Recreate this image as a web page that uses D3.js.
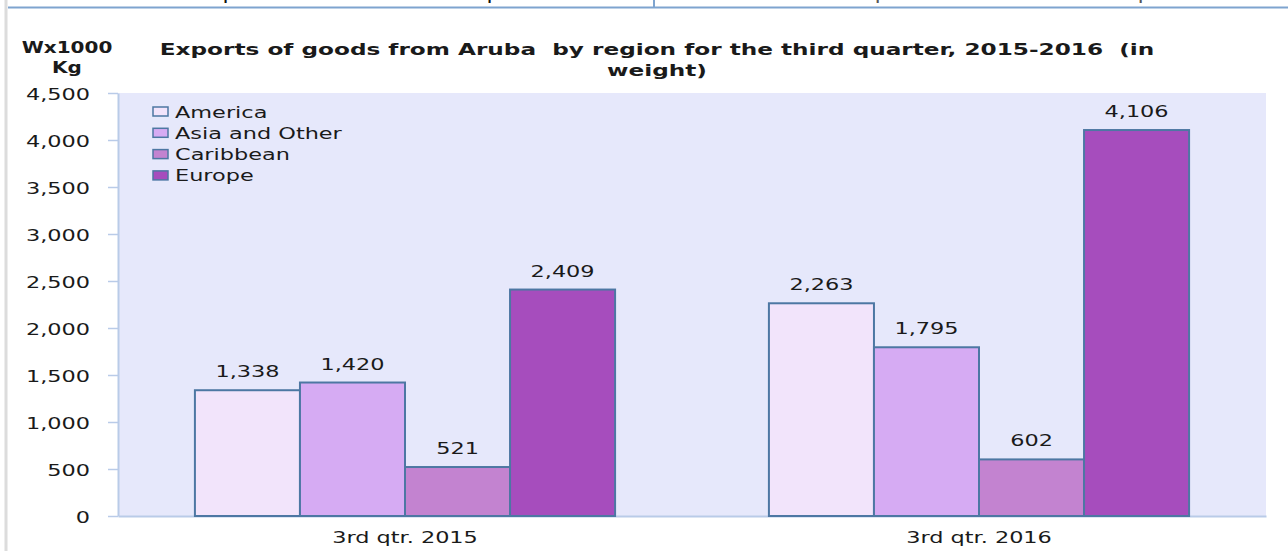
<!DOCTYPE html>
<html>
<head>
<meta charset="utf-8">
<script src="https://cdn.jsdelivr.net/npm/d3@7/dist/d3.min.js"></script>
<style>
  html, body { margin: 0; padding: 0; background: #ffffff; }
  svg { display: block; }
  text { font-family: "DejaVu Sans", Verdana, sans-serif; white-space: pre; }
</style>
</head>
<body>
<svg id="chart" width="1288" height="551"></svg>
<script>
// ---- data ----
const categories = ["3rd qtr. 2015", "3rd qtr. 2016"];
const seriesNames = ["America", "Asia and Other", "Caribbean", "Europe"];
const america = [1338, 2263];
const asiaOther = [1420, 1795];
const caribbean = [521, 602];
const europe = [2409, 4106];
const yTicks = [0, 500, 1000, 1500, 2000, 2500, 3000, 3500, 4000, 4500];
const titleLines = ["Exports of goods from Aruba  by region for the third quarter, 2015-2016  (in", "weight)"];
const yLabelLines = ["Wx1000", "Kg"];
const colors = ["#f2e4fb", "#d6abf3", "#c383d0", "#a64dbd"];

const seriesValues = [america, asiaOther, caribbean, europe];

// ---- layout ----
const SX = 1.4;
const svg = d3.select("#chart");
const plot = { left: 118, right: 1266, top: 93, bottom: 516 };

function stext(parent, x, y, txt, opts = {}) {
  const t = parent.append("text")
    .attr("transform", `translate(${x},${y}) scale(${opts.sx || SX},1)`)
    .attr("text-anchor", opts.anchor || "start")
    .attr("font-size", opts.size || 16)
    .attr("font-weight", opts.bold ? "bold" : "normal")
    .attr("fill", opts.fill || "#1a1a1a")
    .text(txt);
  return t;
}

// top table fragment (row above the chart, cut off by the picture's top edge)
const topRow = svg.append("g");
stext(topRow, 195, 0, "Export", { fill: "#111" });
stext(topRow, 458, 0, "Import", { fill: "#111" });
stext(topRow, 822, 0, "3rd quarter 2015", { fill: "#555" });
stext(topRow, 1085, 0, "3rd quarter 2016", { fill: "#555" });
svg.append("line").attr("x1", 8).attr("x2", 1288).attr("y1", 7.5).attr("y2", 7.5)
  .attr("stroke", "#7ea4cf").attr("stroke-width", 2);
svg.append("line").attr("x1", 654).attr("x2", 654).attr("y1", 0).attr("y2", 7)
  .attr("stroke", "#7ea4cf").attr("stroke-width", 2);
// left grey border
svg.append("line").attr("x1", 6).attr("x2", 6).attr("y1", 0).attr("y2", 551)
  .attr("stroke", "#dcdcdc").attr("stroke-width", 3);

// scales
const y = d3.scaleLinear().domain([0, 4500]).range([plot.bottom, plot.top]);
const x0 = d3.scaleBand().domain(categories).range([plot.left, plot.right]).padding(0);
const bw = x0.bandwidth();
const x1 = d3.scaleBand().domain(seriesNames).range([bw * 0.134, bw * 0.866]).padding(0);

// plot background
svg.append("rect")
  .attr("x", plot.left).attr("y", plot.top)
  .attr("width", plot.right - plot.left).attr("height", plot.bottom - plot.top)
  .attr("fill", "#e6e8fb");

// y axis
const yAxis = svg.append("g").attr("transform", `translate(${plot.left},0)`)
  .call(d3.axisLeft(y).tickValues(yTicks).tickSize(10).tickSizeOuter(0).tickFormat(d3.format(",")));
yAxis.select(".domain").attr("stroke", "#b9cbe8").attr("stroke-width", 2);
yAxis.selectAll(".tick line").attr("stroke", "#b9cbe8").attr("stroke-width", 1.5);
yAxis.selectAll(".tick text")
  .attr("x", null).attr("dy", null)
  .attr("transform", `translate(-28,6) scale(${SX},1)`)
  .attr("text-anchor", "end")
  .attr("font-size", 16)
  .attr("font-family", "DejaVu Sans, sans-serif")
  .attr("fill", "#1a1a1a");

// x axis
const xAxis = svg.append("g").attr("transform", `translate(0,${plot.bottom})`)
  .call(d3.axisBottom(x0).tickSize(0).tickSizeOuter(0));
xAxis.select(".domain").attr("stroke", "#b9cbe8").attr("stroke-width", 2);
xAxis.selectAll(".tick text")
  .attr("y", null).attr("dy", null)
  .attr("transform", `translate(0,27) scale(${SX},1)`)
  .attr("font-size", 16)
  .attr("font-family", "DejaVu Sans, sans-serif")
  .attr("fill", "#1a1a1a");

// bars
const groups = svg.append("g").selectAll("g")
  .data(categories)
  .join("g")
  .attr("transform", d => `translate(${x0(d)},0)`);

groups.selectAll("rect")
  .data((c, ci) => seriesNames.map((s, si) => ({ s, si, v: seriesValues[si][ci] })))
  .join("rect")
  .attr("x", d => x1(d.s))
  .attr("y", d => y(d.v))
  .attr("width", x1.bandwidth())
  .attr("height", d => y(0) - y(d.v))
  .attr("fill", d => colors[d.si])
  .attr("stroke", "#4d77a3")
  .attr("stroke-width", 2);

groups.each(function (c, ci) {
  const g = d3.select(this);
  seriesNames.forEach((s, si) => {
    const v = seriesValues[si][ci];
    stext(g, x1(s) + x1.bandwidth() / 2, y(v) - 13, d3.format(",")(v), { anchor: "middle" });
  });
});

// legend
const legend = svg.append("g");
seriesNames.forEach((s, i) => {
  const cy = 111.5 + i * 21.3;
  legend.append("rect")
    .attr("x", 153).attr("y", cy - 4.5).attr("width", 15).attr("height", 9)
    .attr("fill", colors[i]).attr("stroke", "#4d77a3").attr("stroke-width", 1.5);
  stext(legend, 175, cy + 6, s);
});

// title
const titleG = svg.append("g");
const t1 = stext(titleG, 657, 55, titleLines[0], { anchor: "middle", bold: true, size: 16 });
const t2 = stext(titleG, 657, 76, titleLines[1], { anchor: "middle", bold: true, size: 16 });
const w1 = t1.node().getComputedTextLength();
const tsx = 995 / w1;
t1.attr("transform", `translate(657,55) scale(${tsx},1)`);
t2.attr("transform", `translate(657,76) scale(${tsx},1)`);

// y-axis unit label
stext(svg, 67, 53, yLabelLines[0], { anchor: "middle", bold: true, size: 16, sx: 1.25 });
stext(svg, 67, 73, yLabelLines[1], { anchor: "middle", bold: true, size: 16, sx: 1.25 });
</script>
</body>
</html>
